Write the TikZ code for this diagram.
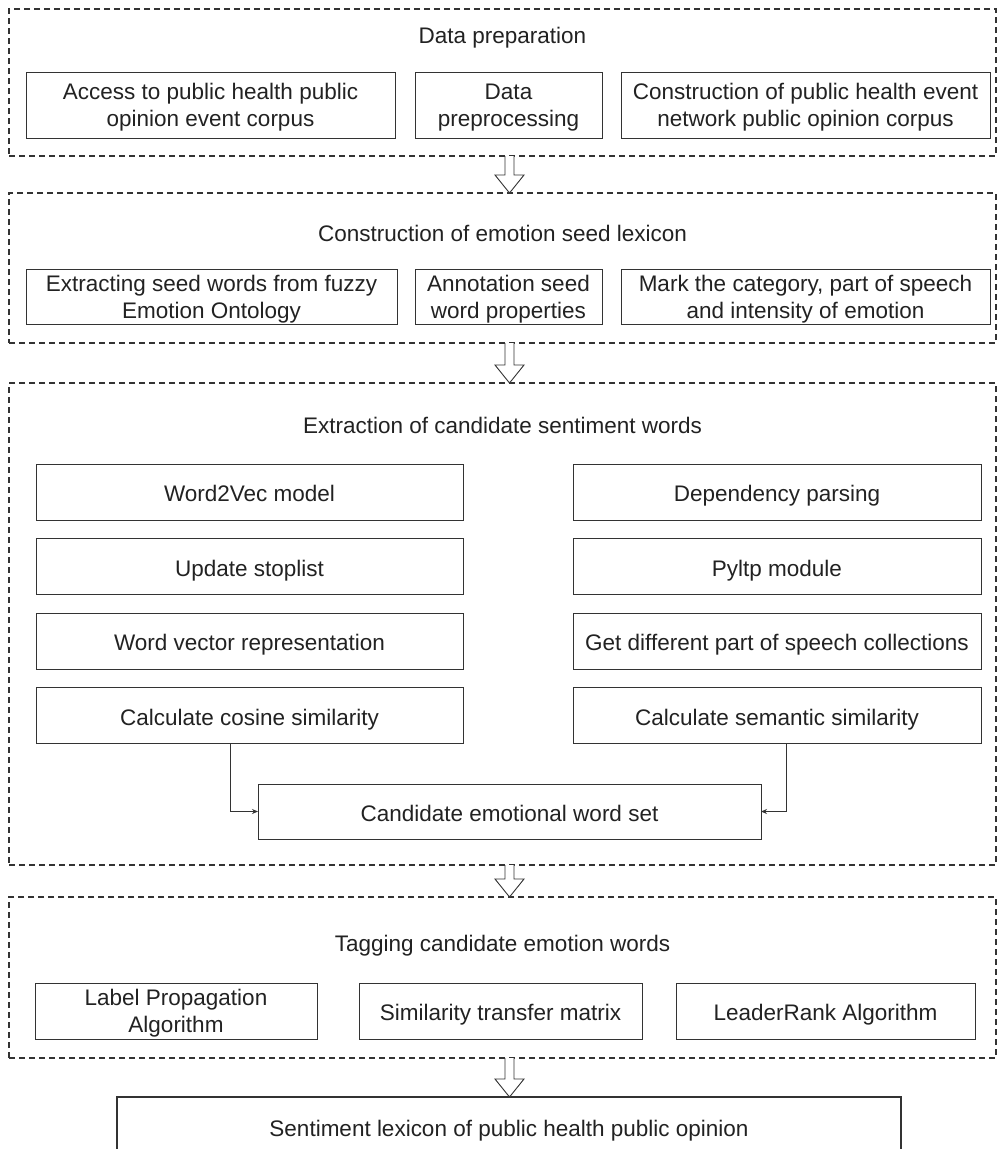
\documentclass[tikz,border=0pt]{standalone}
\usepackage{fontspec}
\setmainfont{Liberation Sans}
\usetikzlibrary{arrows.meta,calc}
\definecolor{ink}{HTML}{222222}
\definecolor{edge}{HTML}{333333}
\newcommand\blkarrow[2]{%
  \fill[white] ([xshift=-4.5pt]#1) -- ([xshift=-4.5pt,yshift=18pt]#2) -- ([xshift=-14.5pt,yshift=18pt]#2) -- (#2) -- ([xshift=14.5pt,yshift=18pt]#2) -- ([xshift=4.5pt,yshift=18pt]#2) -- ([xshift=4.5pt]#1) -- cycle;
  \draw[blk] ([xshift=-4.5pt]#1) -- ([xshift=-4.5pt,yshift=18pt]#2) -- ([xshift=-14.5pt,yshift=18pt]#2) -- (#2) -- ([xshift=14.5pt,yshift=18pt]#2) -- ([xshift=4.5pt,yshift=18pt]#2) -- ([xshift=4.5pt]#1);}
\begin{document}
\begin{tikzpicture}[x=1pt,y=-1pt,
  every node/.style={font=\fontsize{22.5}{27}\selectfont, text=ink},
  section/.style={draw=edge, line width=1.3pt, dash pattern=on 6pt off 4pt, inner sep=0pt, outer sep=0pt},
  box/.style={draw=edge, line width=0.9pt, inner sep=0pt, outer sep=0pt, align=center},
  one/.style={text height=19pt, text depth=0pt},
  two/.style={text depth=0pt},
  finalbox/.style={draw=edge, line width=1.8pt, inner sep=0pt, outer sep=0pt, align=center, one},
  ttl/.style={inner sep=0pt, one},
  conn/.style={draw=edge, line width=0.9pt, -{Stealth[length=6pt,width=5pt]}},
  blk/.style={draw=edge, line width=0.9pt, line join=miter}]
\useasboundingbox (0,0) rectangle (999,1149);
\fill[white] (0,0) rectangle (999,1149);

% Section 1
\node[section, minimum width=987pt, minimum height=147pt] (sec1) at (502.5,82.5) {};
\node[ttl] (t1) at (502.5,34) {Data preparation};
\node[box, two, minimum width=369pt, minimum height=66pt] (b11) at (210.5,105) {Access to public health public\\opinion event corpus};
\node[box, two, minimum width=187pt, minimum height=66pt] (b12) at (508.5,105) {Data\\preprocessing};
\node[box, two, minimum width=369pt, minimum height=66pt] (b13) at (805.5,105) {Construction of public health event\\network public opinion corpus};

% Section 2
\node[section, minimum width=987pt, minimum height=150pt] (sec2) at (502.5,268) {};
\node[ttl] (t2) at (502.5,231.5) {Construction of emotion seed lexicon};
\node[box, two, minimum width=371pt, minimum height=55pt] (b21) at (211.5,296.5) {Extracting seed words from fuzzy\\Emotion Ontology};
\node[box, two, minimum width=187pt, minimum height=55pt] (b22) at (508.5,296.5) {Annotation seed\\word properties};
\node[box, two, minimum width=369pt, minimum height=55pt] (b23) at (805.5,296.5) {Mark the category, part of speech\\and intensity of emotion};

% Section 3
\node[section, minimum width=987pt, minimum height=482pt] (sec3) at (502.5,624) {};
\node[ttl] (t3) at (502.5,424) {Extraction of candidate sentiment words};
\node[box, one, minimum width=427pt, minimum height=56pt] (w2v) at (249.5,492) {Word2Vec model};
\node[box, one, minimum width=427pt, minimum height=56pt] (stop) at (249.5,566.5) {Update stoplist};
\node[box, one, minimum width=427pt, minimum height=56pt] (wvec) at (249.5,641) {Word vector representation};
\node[box, one, minimum width=427pt, minimum height=56pt] (cos) at (249.5,715.5) {Calculate cosine similarity};
\node[box, one, minimum width=408pt, minimum height=56pt] (dep) at (777,492) {Dependency parsing};
\node[box, one, minimum width=408pt, minimum height=56pt] (pyltp) at (777,566.5) {Pyltp module};
\node[box, one, minimum width=408pt, minimum height=56pt] (pos) at (777,641) {Get different part of speech collections};
\node[box, one, minimum width=408pt, minimum height=56pt] (sem) at (777,715.5) {Calculate semantic similarity};
\node[box, one, minimum width=503pt, minimum height=55pt] (cand) at (509.5,811.5) {Candidate emotional word set};
\coordinate (lx) at (230,0);
\coordinate (rx) at (786,0);
\draw[conn] (cos.south -| lx) |- (cand.west);
\draw[conn] (sem.south -| rx) |- (cand.east);

% Section 4
\node[section, minimum width=987pt, minimum height=161pt] (sec4) at (502.5,977.5) {};
\node[ttl] (t4) at (502.5,942) {Tagging candidate emotion words};
\node[box, two, minimum width=282pt, minimum height=56pt] (b41) at (176,1011) {Label Propagation\\Algorithm};
\node[box, one, minimum width=283pt, minimum height=56pt] (b42) at (500.5,1011) {Similarity transfer matrix};
\node[box, one, minimum width=299pt, minimum height=56pt] (b43) at (825.5,1011) {LeaderRank Algorithm};

% Final
\node[finalbox, minimum width=784pt, minimum height=62pt] (fin) at (509,1128) {\raisebox{1.5pt}{Sentiment lexicon of public health public opinion}};

% Block arrows
\coordinate (ax) at (509.5,0);
\coordinate (a1s) at (sec1.south -| ax);
\coordinate (a1e) at (sec2.north -| ax);
\coordinate (a2s) at (sec2.south -| ax);
\coordinate (a2e) at (sec3.north -| ax);
\coordinate (a3s) at (sec3.south -| ax);
\coordinate (a3e) at (sec4.north -| ax);
\coordinate (a4s) at (sec4.south -| ax);
\coordinate (a4e) at (fin.north -| ax);
\blkarrow{a1s}{a1e}
\blkarrow{a2s}{a2e}
\blkarrow{a3s}{a3e}
\blkarrow{a4s}{a4e}
\end{tikzpicture}
\end{document}
